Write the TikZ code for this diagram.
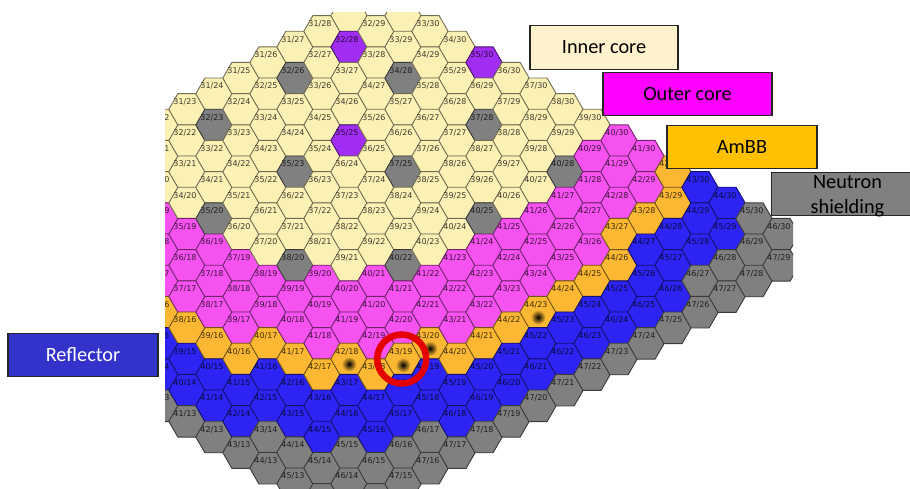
\documentclass[tikz,border=0pt]{standalone}
\usepackage{fontspec}
\setmainfont{Carlito}
\newfontfamily\hexfont{DejaVu Sans}
\usetikzlibrary{shapes.geometric}
\definecolor{innerfill}{HTML}{FBF1B5}
\definecolor{outerfill}{HTML}{F652F0}
\definecolor{ambbfill}{HTML}{FCB832}
\definecolor{reflfill}{HTML}{2D24F4}
\definecolor{shieldfill}{HTML}{808080}
\definecolor{rodfill}{HTML}{A22DF2}
\definecolor{innerkey}{HTML}{FFF2CC}
\definecolor{outerkey}{HTML}{FF00FF}
\definecolor{ambbkey}{HTML}{FFC000}
\definecolor{reflkey}{HTML}{3333CC}
\tikzset{
    hexcell/.style={regular polygon,regular polygon sides=6,minimum size=36.4pt,inner sep=0pt,outer sep=0pt,
        fill=#1,draw=#1!45!black,line width=.9pt},
    hexlabel/.style={inner sep=0pt,font=\hexfont\fontsize{8}{8}\selectfont,text=#1!25!black},
    legendbox/.style={draw=black!85,line width=1.4pt,fill=#1,minimum height=43.5pt,inner sep=0pt,
        font=\fontsize{20.3}{24.5}\selectfont,align=center},
    hotspot/.style={circle,minimum size=15pt,inner sep=0pt,inner color=black,outer color=ambbfill}
}
% column / first / magenta from / orange from / blue from / gray from / last
\def\coretable{
    53/31/34/37/38/40/40,54/31/35/38/39/41/41,55/31/36/39/40/42/42,56/31/37/40/41/43/43,
    57/31/38/40/41/43/44,58/31/39/41/42/44/45,59/31/39/42/43/45/46,60/31/40/42/43/45/46,
    61/32/40/43/44/46/47,62/32/41/43/44/46/47,63/33/41/43/44/46/47,64/34/41/44/45/47/47,
    65/35/41/44/45/47/47,66/36/41/44/45/47/47,67/37/41/44/45/47/47,68/38/41/44/45/47/47,
    69/39/40/44/45/47/47,70/40/40/43/45/47/47,71/41/41/43/44/47/47,72/42/42/42/44/47/47,
    73/43/43/43/43/46/47,74/44/44/44/44/46/47,75/45/45/45/45/45/47,76/46/46/46/46/46/47}
\newcommand{\pickcol}{%
    \def\col{innerfill}%
    \ifnum\i<\im\else\def\col{outerfill}\fi
    \ifnum\i<\io\else\def\col{ambbfill}\fi
    \ifnum\i<\ib\else\def\col{reflfill}\fi
    \ifnum\i<\ig\else\def\col{shieldfill}\fi
    \foreach \a/\b/\s in {32/26/shieldfill,34/28/shieldfill,32/23/shieldfill,35/23/shieldfill,
        37/25/shieldfill,37/28/shieldfill,35/20/shieldfill,38/20/shieldfill,40/22/shieldfill,
        40/25/shieldfill,40/28/shieldfill,32/28/rodfill,35/25/rodfill,35/30/rodfill}{%
        \ifnum\a=\i\ifnum\b=\j\global\let\col\s\fi\fi
    }%
}
\begin{document}
\begin{tikzpicture}[x=1pt,y=-1pt]
    \useasboundingbox (0,0) rectangle (910,489);
    \begin{scope}
        \clip (165,12.5) rectangle (793,489);
        \foreach \c/\ifirst/\im/\io/\ib/\ig/\ilast in \coretable{
            \foreach \i in {\ifirst,...,\ilast}{
                \pgfmathtruncatemacro{\j}{\c-\i}
                \pgfmathsetmacro{\hx}{349+27*(\c-60)}
                \pgfmathsetmacro{\hy}{47+15.6*(\i-\j-4)}
                \pickcol
                \node[hexcell=\col] (h\i-\j) at (\hx,\hy) {};
            }
        }
        % labels after the cells, they run over the edges
        % the two lowest cells and the two highest are cut off with no label showing
        \foreach \c/\ifirst/\im/\io/\ib/\ig/\ilast in \coretable{
            \foreach \i in {\ifirst,...,\ilast}{
                \pgfmathtruncatemacro{\j}{\c-\i}
                \pgfmathtruncatemacro{\rowno}{\i-\j}
                \pickcol
                \ifnum\rowno<33\ifnum\rowno>2
                    \node[hexlabel=\col] (t\i-\j) at ([xshift=-2pt,yshift=7.5pt]h\i-\j.center) {\i/\j};
                \fi\fi
            }
        }
        \node[hotspot] (d1) at ([yshift=-5pt]h42-18.center) {};
        \node[hotspot] (d2) at ([yshift=-6pt]h43-19.center) {};
        \node[hotspot] (d3) at ([yshift=-5pt]h43-20.center) {};
        \node[hotspot] (d4) at ([yshift=-5pt]h44-23.center) {};
    \end{scope}
    \node[draw=red!90!black,line width=6.5pt,circle,minimum size=49pt,inner sep=0pt] (ring) at (401.7,359) {};
    \node[legendbox=innerkey,minimum width=148pt] (inner) at (604,47.5) {Inner core};
    \node[legendbox=outerkey,minimum width=169pt] (outer) at (687.5,94) {Outer core};
    \node[legendbox=ambbkey,minimum width=150pt] (ambb) at (742,147) {AmBB};
    \node[legendbox=shieldfill,minimum width=152pt] (shield) at (847.5,194) {};
    \node[font=\fontsize{20.3}{24.5}\selectfont,align=center,inner sep=0pt] (shieldtext) at ([yshift=-2pt]shield.center) {Neutron\\shielding};
    \node[legendbox=reflkey,minimum width=150pt,text=white] (refl) at (83,355) {Reflector};
\end{tikzpicture}
\end{document}
